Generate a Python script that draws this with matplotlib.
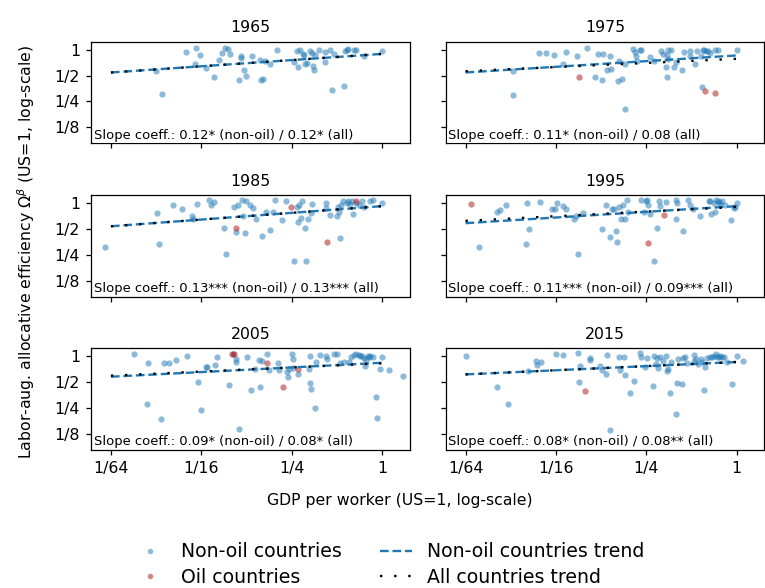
import numpy as np
import matplotlib
matplotlib.use("Agg")
import matplotlib.pyplot as plt
from matplotlib.lines import Line2D

# valeurs, en log2 (US = 0)
years = [1965, 1975, 1985, 1995, 2005, 2015]

gdp_1965 = [-4.33, -4.11, -4.02, -4.15, -3.89, -3.72, -3.61, -3.54, -3.47, -3.41, -3.37, -3.16, -3.13, -3.12,
            -3.05, -3.01, -2.88, -2.70, -2.69, -2.64, -2.59, -2.47, -2.33, -1.94, -1.89, -1.85, -1.81, -1.76,
            -1.73, -1.70, -1.67, -1.59, -1.56, -1.52, -1.50, -1.48, -1.39, -1.27, -1.26, -1.16, -1.11, -1.07,
            -0.85, -0.81, -0.78, -0.76, -0.63, -0.57, -0.41, 0.0, -4.87, -5.0, -2.70]
eff_1965 = [-0.09, 0.06, -0.21, -0.57, -0.69, -1.04, -0.40, -0.13, 0.06, 0.04, -0.17, -1.17, -0.23, -0.32,
            -0.78, -1.01, -0.23, -0.39, -1.19, -1.13, -0.43, -0.56, 0.0, -0.48, -0.06, -0.65, 0.0, -0.17,
            -0.19, -0.55, -0.52, -0.06, -0.13, -0.62, -0.78, -0.22, 0.0, -0.09, -0.48, 0.0, -1.56, -0.17,
            -1.40, -0.06, 0.0, 0.03, 0.0, 0.0, -0.23, -0.03, -1.73, -0.81, -3.44]
oil_gdp_1965 = []
oil_eff_1965 = []

gdp_1975 = [-4.38, -4.22, -4.04, -3.78, -3.54, -3.31, -3.06, -2.96, -2.80, -3.85, -3.14, -2.97, -2.87, -2.77,
            -2.63, -2.53, -2.47, -2.61, -2.47, -4.95, -4.94, -2.30, -2.24, -2.23, -2.20, -2.13, -2.11, -1.91,
            -1.84, -1.68, -1.62, -1.51, -1.54, -1.53, -1.56, -1.54, -1.45, -1.39, -1.34, -1.21, -1.17, -1.04,
            -1.03, -0.92, -0.88, -0.80, -0.75, -0.72, -0.67, -0.64, -0.60, -0.47, -0.42, -0.76, 0.0, -1.58]
eff_1975 = [-0.12, -0.13, -0.21, -0.10, -0.25, 0.05, -0.17, -0.16, -0.25, -0.56, -1.04, -1.18, -0.79, -0.73,
            -1.21, -1.14, -0.57, -0.45, -2.29, -1.74, -0.83, 0.04, -0.08, -0.23, -0.42, 0.0, -0.01, -0.29,
            -0.45, -0.05, -0.17, 0.0, -0.19, -0.36, -0.66, -1.04, 0.0, -0.66, -0.48, -0.79, -0.08, -0.05,
            -0.23, -0.56, -0.03, -0.23, 0.0, -0.01, -0.06, -0.05, -0.13, 0.0, 0.0, -1.43, -0.01, -3.47]
oil_gdp_1975 = [-3.48, -0.71, -0.49]
oil_eff_1975 = [-1.04, -1.60, -1.66]

gdp_1985 = [-6.12, -4.99, -4.93, -4.63, -4.42, -4.21, -4.18, -4.09, -3.82, -3.78, -3.73, -3.50, -3.46, -3.28,
            -3.24, -3.19, -3.10, -3.07, -3.03, -3.02, -2.93, -2.85, -2.79, -2.66, -2.57, -2.49, -2.41, -2.37,
            -2.21, -2.13, -1.95, -1.88, -1.86, -1.84, -1.80, -1.77, -1.71, -1.69, -1.63, -1.57, -1.55, -1.24,
            -1.23, -1.15, -1.00, -0.98, -0.96, -0.92, -0.90, -0.86, -0.78, -0.75, -0.70, -0.67, -0.64, -0.58,
            -0.52, -0.44, -0.41, -0.26, -0.20, 0.0]
eff_1985 = [-1.69, -0.40, -1.60, -0.08, -0.22, -0.52, -0.63, -0.03, 0.10, -0.09, 0.03, -0.98, -1.98, -0.16,
            -1.12, -0.09, 0.12, -0.52, -1.15, 0.07, -0.09, -0.20, -0.61, -1.29, -0.33, -1.06, -0.33, 0.10,
            -0.65, 0.08, -2.23, -0.16, -0.74, -0.09, -0.59, 0.09, -0.98, -2.23, -0.61, -0.39, -0.03, -0.01,
            -0.20, -0.48, -0.50, -0.14, -0.33, -1.34, -0.07, 0.07, 0.0, 0.09, -0.03, 0.09, -0.43, 0.0,
            -0.07, 0.09, -0.14, 0.09, 0.10, 0.0]
oil_gdp_1985 = [-3.24, -2.01, -1.22, -0.58]
oil_eff_1985 = [-0.98, -0.17, -1.51, 0.09]

gdp_1995 = [-5.71, -5.31, -5.23, -5.11, -4.66, -4.63, -4.60, -4.35, -4.08, -4.01, -3.98, -3.85, -3.78, -3.59,
            -3.56, -3.52, -3.40, -2.98, -2.90, -2.81, -2.76, -2.72, -2.68, -2.65, -2.61, -2.55, -2.52, -2.46,
            -2.42, -2.41, -2.11, -2.06, -2.01, -1.99, -1.96, -1.91, -1.82, -1.76, -1.72, -1.69, -1.56, -1.34,
            -1.34, -1.31, -1.19, -1.08, -1.03, -0.97, -0.82, -0.62, -0.58, -0.56, -0.51, -0.48, -0.45, -0.41,
            -0.39, -0.36, -0.32, -0.25, -0.13, -0.07, -0.03, 0.0]
eff_1995 = [-1.69, -0.33, -0.26, -0.09, -1.60, 0.0, -0.99, 0.04, -0.23, -0.22, -0.01, -0.13, -0.23, -0.63,
            -0.52, -1.99, -0.38, -0.99, -0.09, -1.30, -0.25, -0.22, -1.07, -1.51, -0.17, -0.63, -0.07, -0.63,
            0.12, -0.33, 0.12, -0.33, 0.09, 0.10, -0.09, -0.43, -2.24, -0.98, 0.09, -0.12, 0.04, 0.10,
            -0.60, -0.01, -1.07, 0.10, -0.09, -0.22, -0.52, 0.09, 0.07, -0.43, 0.0, -0.33, 0.10, 0.09,
            0.04, -0.04, 0.09, -0.07, -0.64, -0.20, -0.17, 0.0]
oil_gdp_1995 = [-5.87, -1.96, -1.61]
oil_eff_1995 = [-0.05, -1.53, -0.46]

gdp_2005 = [-5.49, -5.21, -5.17, -4.90, -4.83, -4.72, -4.56, -4.31, -4.08, -4.01, -3.90, -3.87, -3.70, -3.66,
            -3.39, -3.29, -3.24, -3.23, -3.17, -2.98, -2.90, -2.82, -2.73, -2.71, -2.66, -2.54, -2.51, -2.31,
            -2.27, -2.11, -2.08, -2.05, -2.00, -1.97, -1.96, -1.87, -1.62, -1.59, -1.57, -1.49, -1.60, -1.47,
            -1.38, -1.24, -1.22, -1.06, -1.00, -0.94, -0.85, -0.74, -0.69, -0.63, -0.57, -0.52, -0.48, -0.44,
            -0.41, -0.37, -0.35, -0.32, -0.29, -0.26, -0.21, -0.14, -0.12, -0.04, 0.0, 0.15, 0.46]
eff_2005 = [0.09, -1.85, -0.27, -2.41, -0.27, -0.24, -0.13, 0.01, -1.00, -2.07, -0.42, -0.41, -0.35, -0.01,
            -1.11, 0.09, -0.10, -0.21, -2.82, -0.01, -1.31, -0.48, -0.14, -1.17, -0.17, 0.09, -0.53, -0.26,
            -0.53, -0.62, -0.81, -0.49, 0.09, -0.10, -0.45, -0.69, -0.49, -1.03, -1.27, -2.02, 0.01, -0.22,
            0.06, 0.01, -0.09, 0.08, 0.08, -0.27, -0.23, -0.23, -0.01, 0.04, 0.09, 0.05, 0.01, 0.03,
            -0.06, -0.37, -0.14, 0.01, -0.04, 0.01, -0.01, -1.56, -2.37, -0.51, -0.01, -0.54, -0.75]
oil_gdp_2005 = [-3.32, -3.27, -2.54, -2.20, -1.86]
oil_eff_2005 = [0.09, 0.08, -0.24, -1.20, -0.48]

gdp_2015 = [-5.99, -5.31, -5.07, -4.62, -4.44, -4.41, -4.33, -4.00, -3.85, -3.50, -3.48, -3.46, -3.25, -3.24,
            -3.02, -2.98, -2.90, -2.86, -2.80, -2.61, -2.59, -2.50, -2.47, -2.35, -2.27, -2.15, -2.12, -2.02,
            -1.99, -1.86, -1.84, -1.79, -1.76, -1.75, -1.69, -1.62, -1.56, -1.54, -1.53, -1.48, -1.46, -1.34,
            -1.31, -1.29, -1.20, -1.19, -1.14, -1.10, -0.95, -0.94, -0.90, -0.86, -0.80, -0.77, -0.72, -0.69,
            -0.66, -0.60, -0.55, -0.51, -0.45, -0.44, -0.40, -0.36, -0.32, -0.29, -0.21, -0.10, 0.01, 0.13]
eff_2015 = [0.01, -1.18, -1.84, -0.55, -0.17, -0.32, -0.23, 0.09, 0.04, 0.12, -0.99, -0.36, -0.08, -0.14,
            -0.36, -0.53, -0.69, 0.05, -2.84, -0.01, -0.53, -0.01, -0.73, -1.43, -0.94, 0.12, -0.04, -0.42,
            -0.06, -1.16, 0.03, -0.30, -0.06, -0.45, -0.01, -0.17, 0.01, -0.58, -0.49, -1.42, -0.21, -2.24,
            -1.02, -0.09, -1.07, -0.08, -0.01, -0.24, 0.06, -0.17, -0.10, -0.30, -0.10, -0.22, -1.30, -0.40,
            -0.06, -0.01, -0.04, 0.01, 0.09, -0.01, -0.04, 0.03, -0.01, -0.04, -0.23, -1.07, 0.01, -0.19]
oil_gdp_2015 = [-3.36]
oil_eff_2015 = [-1.33]

# droites de tendance (log2 y = a + b * log2 x)
icpt_nonoil = [-0.16, -0.22, -0.12, -0.12, -0.25, -0.22]
slope_nonoil = [0.12, 0.11, 0.13, 0.11, 0.09, 0.08]
icpt_all = [-0.16, -0.35, -0.12, -0.15, -0.27, -0.22]
slope_all = [0.12, 0.08, 0.13, 0.09, 0.08, 0.08]
stars_nonoil = ["0.12*", "0.11*", "0.13***", "0.11***", "0.09*", "0.08*"]
stars_all = ["0.12*", "0.08", "0.13***", "0.09***", "0.08*", "0.08**"]

nonoil_gdp = [gdp_1965, gdp_1975, gdp_1985, gdp_1995, gdp_2005, gdp_2015]
nonoil_eff = [eff_1965, eff_1975, eff_1985, eff_1995, eff_2005, eff_2015]
oil_gdp = [oil_gdp_1965, oil_gdp_1975, oil_gdp_1985, oil_gdp_1995, oil_gdp_2005, oil_gdp_2015]
oil_eff = [oil_eff_1965, oil_eff_1975, oil_eff_1985, oil_eff_1995, oil_eff_2005, oil_eff_2015]

blue = "tab:blue"
red = "firebrick"
dpi = 113

fig, axes = plt.subplots(3, 2, figsize=(765 / dpi, 588 / dpi), sharex=True, sharey=True)
fig.subplots_adjust(left=0.119, right=0.999, bottom=0.235, top=0.929, wspace=0.113, hspace=0.51)

for k, ax in enumerate(axes.flat):
    ax.set_xscale("log", base=2)
    ax.set_yscale("log", base=2)
    ax.scatter(np.exp2(nonoil_gdp[k]), np.exp2(nonoil_eff[k]), s=16, color=blue, alpha=0.5, linewidth=0, zorder=2)
    if oil_gdp[k]:
        ax.scatter(np.exp2(oil_gdp[k]), np.exp2(oil_eff[k]), s=16, color=red, alpha=0.55, linewidth=0, zorder=2)
    xl = np.array([-6.0, 0.0])
    ax.plot(np.exp2(xl), np.exp2(icpt_nonoil[k] + slope_nonoil[k] * xl), color=blue, ls="--", lw=1.5, zorder=3)
    ax.plot(np.exp2(xl), np.exp2(icpt_all[k] + slope_all[k] * xl), color="black", ls=(0, (1, 5)), lw=1.5, zorder=4)
    ax.text(0.008, 0.015, f"Slope coeff.: {stars_nonoil[k]} (non-oil) / {stars_all[k]} (all)",
            transform=ax.transAxes, fontsize=8.33, ha="left", va="bottom", zorder=5,
            bbox=dict(facecolor="white", edgecolor="none", alpha=0.8, pad=0.5))
    ax.set_title(str(years[k]), fontsize=10)
    ax.set_xlim(np.exp2(-6.44), np.exp2(0.61))
    ax.set_ylim(np.exp2(-3.62), np.exp2(0.31))
    ax.set_xticks([1 / 64, 1 / 16, 1 / 4, 1])
    ax.set_xticklabels(["1/64", "1/16", "1/4", "1"])
    ax.set_yticks([1 / 8, 1 / 4, 1 / 2, 1])
    ax.set_yticklabels(["1/8", "1/4", "1/2", "1"])
    ax.minorticks_off()

fig.text(0.523, 0.148, "GDP per worker (US=1, log-scale)", ha="center", va="center", fontsize=10)
fig.text(0.034, 0.572, r"Labor-aug. allocative efficiency $\Omega^{\beta}$ (US=1, log-scale)",
         rotation=90, ha="center", va="center", fontsize=10)

handles = [
    Line2D([], [], marker="o", ls="", color=blue, alpha=0.5, markersize=3.5, markeredgewidth=0),
    Line2D([], [], marker="o", ls="", color=red, alpha=0.55, markersize=3.5, markeredgewidth=0),
    Line2D([], [], color=blue, ls="--", lw=1.5),
    Line2D([], [], color="black", ls=(0, (1, 5)), lw=1.5),
]
labels = ["Non-oil countries", "Oil countries", "Non-oil countries trend", "All countries trend"]
fig.legend(handles, labels, loc="center", bbox_to_anchor=(0.509, 0.04), ncol=2, frameon=False,
           fontsize=12, columnspacing=2.0, handlelength=1.7, handletextpad=0.8, labelspacing=0.35)

fig.savefig("out.png", dpi=dpi)
